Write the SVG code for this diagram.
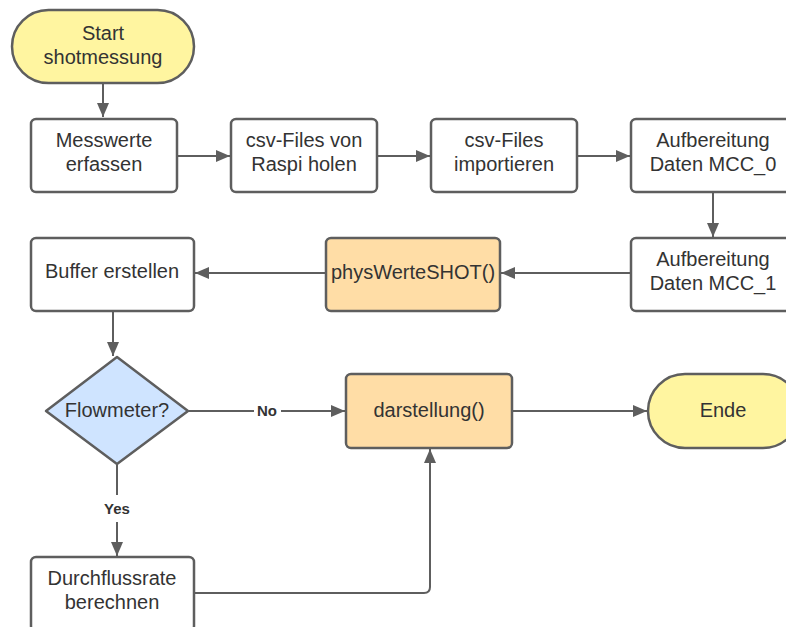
<svg xmlns="http://www.w3.org/2000/svg" width="786" height="627" viewBox="0 0 786 627">
  <style>
    .box { fill: #ffffff; stroke: #5e5e5e; stroke-width: 2.5; }
    .proc { fill: #ffdda6; stroke: #5e5e5e; stroke-width: 2.5; }
    .term { fill: #fff5a0; stroke: #5e5e5e; stroke-width: 2.5; }
    .dec { fill: #cfe4ff; stroke: #5e5e5e; stroke-width: 2.5; stroke-linejoin: round; }
    .lbl { font-family: "Liberation Sans", Arial, sans-serif; font-size: 20px; fill: #333333; text-anchor: middle; }
    .edge { fill: none; stroke: #5e5e5e; stroke-width: 2; }
    .elbl { font-family: "Liberation Sans", Arial, sans-serif; font-size: 15px; font-weight: bold; fill: #333333; text-anchor: middle; }
  </style>
  <defs>
    <marker id="arrow" viewBox="0 0 14 12" refX="14" refY="6" markerWidth="14" markerHeight="12" markerUnits="userSpaceOnUse" orient="auto">
      <path d="M0,0 L14,6 L0,12 Z" fill="#5e5e5e"/>
    </marker>
  </defs>
  <rect width="786" height="627" fill="#ffffff"/>

  <g id="connectors">
    <path class="edge" d="M103,83 V117" marker-end="url(#arrow)"/>
    <path class="edge" d="M177,156 H230" marker-end="url(#arrow)"/>
    <path class="edge" d="M378,156 H430" marker-end="url(#arrow)"/>
    <path class="edge" d="M578,156 H630" marker-end="url(#arrow)"/>
    <path class="edge" d="M713,193 V237" marker-end="url(#arrow)"/>
    <path class="edge" d="M630,273 H501" marker-end="url(#arrow)"/>
    <path class="edge" d="M325,273 H195" marker-end="url(#arrow)"/>
    <path class="edge" d="M113,312 V356" marker-end="url(#arrow)"/>
    <path class="edge" d="M189,411 H254 M281,411 H345" marker-end="url(#arrow)"/>
    <text class="elbl" x="267" y="416">No</text>
    <path class="edge" d="M117,465 V495 M117,522 V556" marker-end="url(#arrow)"/>
    <text class="elbl" x="117" y="514">Yes</text>
    <path class="edge" d="M195,593 H424 Q430,593 430,587 V449" marker-end="url(#arrow)"/>
    <path class="edge" d="M513,411 H647" marker-end="url(#arrow)"/>
  </g>

  <g id="start">
    <rect class="term" x="12" y="10" width="182" height="73" rx="36.5"/>
    <text class="lbl" x="103" y="40">Start</text>
    <text class="lbl" x="103" y="64">shotmessung</text>
  </g>

  <g id="messwerte">
    <rect class="box" x="31" y="119" width="146" height="73" rx="5"/>
    <text class="lbl" x="104" y="147">Messwerte</text>
    <text class="lbl" x="104" y="171">erfassen</text>
  </g>

  <g id="raspi">
    <rect class="box" x="231" y="119" width="146" height="73" rx="5"/>
    <text class="lbl" x="304" y="147">csv-Files von</text>
    <text class="lbl" x="304" y="171">Raspi holen</text>
  </g>

  <g id="import">
    <rect class="box" x="431" y="119" width="146" height="73" rx="5"/>
    <text class="lbl" x="504" y="147">csv-Files</text>
    <text class="lbl" x="504" y="171">importieren</text>
  </g>

  <g id="mcc0">
    <rect class="box" x="631" y="119" width="166" height="73" rx="5"/>
    <text class="lbl" x="713" y="147">Aufbereitung</text>
    <text class="lbl" x="713" y="171">Daten MCC_0</text>
  </g>

  <g id="mcc1">
    <rect class="box" x="631" y="238" width="166" height="73" rx="5"/>
    <text class="lbl" x="713" y="266">Aufbereitung</text>
    <text class="lbl" x="713" y="290">Daten MCC_1</text>
  </g>

  <g id="physwerte">
    <rect class="proc" x="326" y="238" width="174" height="73" rx="5"/>
    <text class="lbl" x="413" y="279">physWerteSHOT()</text>
  </g>

  <g id="buffer">
    <rect class="box" x="31" y="238" width="163" height="73" rx="5"/>
    <text class="lbl" x="112" y="278">Buffer erstellen</text>
  </g>

  <g id="flowmeter">
    <path class="dec" d="M117,357 L188,411 L117,464 L46,411 Z"/>
    <text class="lbl" x="117" y="417">Flowmeter?</text>
  </g>

  <g id="darstellung">
    <rect class="proc" x="346" y="374" width="166" height="74" rx="5"/>
    <text class="lbl" x="429" y="417">darstellung()</text>
  </g>

  <g id="ende">
    <rect class="term" x="648" y="374" width="152" height="74" rx="37"/>
    <text class="lbl" x="723" y="417">Ende</text>
  </g>

  <g id="durchfluss">
    <rect class="box" x="31" y="557" width="163" height="74" rx="5"/>
    <text class="lbl" x="112" y="585">Durchflussrate</text>
    <text class="lbl" x="112" y="609">berechnen</text>
  </g>
</svg>
